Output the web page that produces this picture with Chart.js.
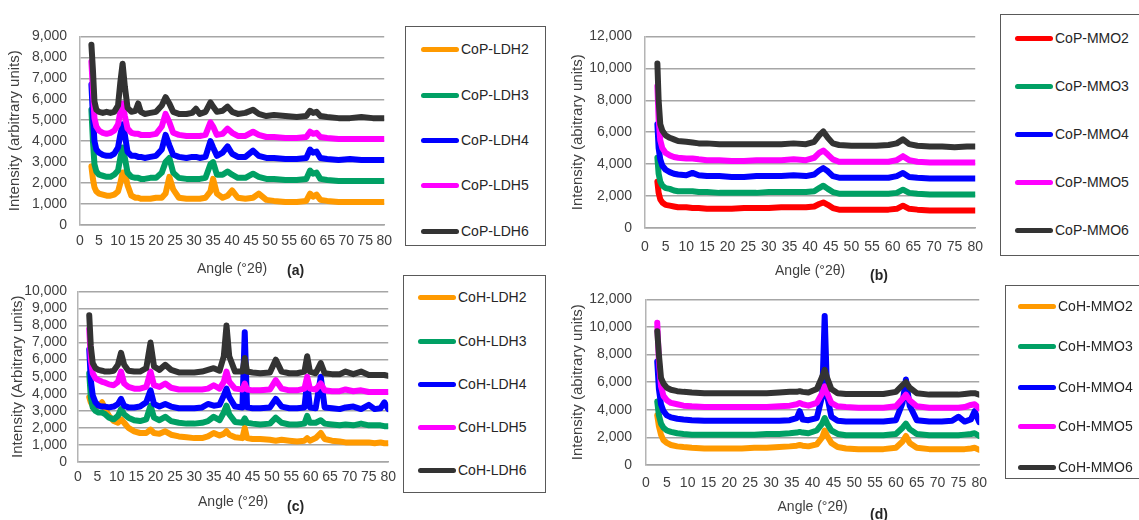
<!DOCTYPE html>
<html>
<head>
<meta charset="utf-8">
<script src="https://cdn.jsdelivr.net/npm/chart.js@4.4.1/dist/chart.umd.min.js"></script>
<style>
  body { margin: 0; background: #fff; overflow: hidden; }
  #fig { position: relative; width: 1139px; height: 520px; overflow: hidden; background: #fff;
         font-family: "Liberation Sans", Arial, sans-serif; }
  #fig canvas { position: absolute; }
  .legend { position: absolute; border: 1.5px solid #595959; background: #fff; box-sizing: border-box; }
  .item { position: absolute; height: 18px; line-height: 18px; font-size: 14px; color: #262626; white-space: nowrap; }
  .item i { display: inline-block; width: 38px; height: 5px; border-radius: 3px; vertical-align: middle; margin: -2px 2px 0 0; }
  .tag { position: absolute; font-weight: bold; font-size: 14px; color: #262626; line-height: 16px; }
</style>
</head>
<body>
<div id="fig">
  <canvas id="chartA"></canvas>
  <canvas id="chartB"></canvas>
  <canvas id="chartC"></canvas>
  <canvas id="chartD"></canvas>
</div>
<script>
// ---- (a) CoP-LDH patterns ----
const angleA = [3, 3.4, 3.8, 4.3, 5, 6, 7, 8, 9, 10, 10.6, 11.2, 11.8, 12.5, 13.5, 14.6, 15.3, 16, 17, 18.5,
  20, 21.5, 22.5, 23.5, 24.5, 26, 28, 29.5, 30.5, 31.5, 33, 34.3, 35, 36, 37.5, 38.8, 40, 41.5, 43.5, 45.5,
  47, 49, 51, 54, 57, 59.5, 60.5, 61.3, 62.2, 63.2, 65, 68, 71, 74, 77, 80];
const copLdh2 = [2800, 2200, 1800, 1600, 1500, 1450, 1400, 1400, 1450, 1600, 2000, 2500, 2500, 1900, 1400, 1300, 1300, 1250, 1250, 1250,
  1300, 1300, 1500, 2300, 1700, 1300, 1250, 1250, 1250, 1250, 1300, 1600, 2200, 1500, 1300, 1400, 1650, 1300, 1250, 1300,
  1500, 1200, 1150, 1100, 1100, 1150, 1500, 1350, 1450, 1200, 1150, 1100, 1100, 1100, 1100, 1100];
const copLdh3 = [5500, 4000, 2900, 2550, 2400, 2350, 2300, 2300, 2400, 2600, 3200, 3700, 3200, 2500, 2300, 2250, 2250, 2200, 2200, 2250,
  2250, 2500, 3000, 3200, 2500, 2250, 2200, 2200, 2200, 2200, 2250, 2900, 3000, 2400, 2400, 2550, 2400, 2250, 2250, 2450,
  2300, 2200, 2200, 2150, 2150, 2200, 2600, 2450, 2500, 2200, 2150, 2100, 2100, 2100, 2100, 2100];
const copLdh4 = [6700, 5200, 4000, 3600, 3450, 3350, 3300, 3300, 3400, 3700, 4300, 4800, 4300, 3500, 3300, 3300, 3250, 3250, 3200, 3250,
  3300, 3600, 4300, 3800, 3350, 3250, 3200, 3250, 3250, 3200, 3250, 4000, 3700, 3300, 3450, 3750, 3400, 3250, 3250, 3550,
  3300, 3200, 3200, 3150, 3150, 3200, 3600, 3450, 3500, 3200, 3150, 3100, 3150, 3100, 3100, 3100];
const copLdh5 = [7800, 6400, 5100, 4700, 4500, 4400, 4350, 4400, 4500, 4800, 5400, 5800, 5200, 4600, 4400, 4350, 4350, 4300, 4300, 4300,
  4350, 4700, 5300, 4900, 4400, 4300, 4250, 4250, 4250, 4250, 4300, 4900, 4700, 4300, 4350, 4600, 4400, 4250, 4250, 4450,
  4300, 4200, 4200, 4150, 4150, 4200, 4450, 4350, 4400, 4200, 4150, 4100, 4100, 4100, 4100, 4100];
const copLdh6 = [8600, 7400, 5900, 5500, 5400, 5350, 5400, 5350, 5400, 5700, 6800, 7700, 6600, 5600, 5400, 5450, 5800, 5400, 5300, 5350,
  5400, 5700, 6100, 5800, 5400, 5300, 5300, 5350, 5550, 5300, 5400, 5850, 5650, 5400, 5450, 5650, 5400, 5300, 5350, 5500,
  5300, 5200, 5250, 5200, 5150, 5200, 5450, 5350, 5400, 5200, 5150, 5100, 5100, 5150, 5100, 5100];

// ---- (b) CoP-MMO patterns ----
const angleB = [3, 3.3, 3.7, 4.2, 5, 6, 7, 8, 10, 11.5, 13, 15, 18, 21, 24, 27, 30, 33, 36, 39,
  41, 42.2, 43.2, 44.3, 45.5, 47, 50, 53, 56, 59, 61, 62.5, 64, 66, 69, 72, 75, 78, 80];
const copMmo2 = [2900, 2200, 1800, 1600, 1450, 1400, 1350, 1300, 1300, 1250, 1250, 1200, 1200, 1200, 1250, 1250, 1250, 1300, 1300, 1300,
  1350, 1500, 1600, 1450, 1250, 1150, 1150, 1150, 1150, 1150, 1200, 1400, 1200, 1150, 1100, 1100, 1100, 1100, 1100];
const copMmo3 = [4400, 3400, 2900, 2650, 2500, 2450, 2350, 2300, 2300, 2300, 2250, 2250, 2200, 2200, 2200, 2200, 2250, 2250, 2250, 2250,
  2300, 2500, 2650, 2450, 2250, 2150, 2150, 2150, 2150, 2150, 2200, 2400, 2200, 2150, 2100, 2100, 2100, 2100, 2100];
const copMmo4 = [6500, 5000, 4300, 3900, 3650, 3500, 3400, 3350, 3300, 3450, 3300, 3250, 3250, 3200, 3200, 3250, 3250, 3250, 3300, 3250,
  3350, 3600, 3750, 3550, 3250, 3150, 3150, 3150, 3150, 3150, 3250, 3450, 3200, 3150, 3100, 3100, 3100, 3100, 3100];
const copMmo5 = [8900, 6800, 5500, 5000, 4700, 4550, 4450, 4400, 4350, 4350, 4300, 4250, 4250, 4200, 4200, 4250, 4250, 4250, 4300, 4250,
  4400, 4700, 4850, 4600, 4300, 4150, 4150, 4150, 4150, 4150, 4250, 4500, 4250, 4150, 4100, 4100, 4100, 4100, 4100];
const copMmo6 = [10300, 8000, 6500, 6100, 5800, 5650, 5550, 5450, 5400, 5350, 5300, 5300, 5250, 5250, 5250, 5250, 5250, 5250, 5300, 5250,
  5400, 5800, 6050, 5650, 5300, 5200, 5150, 5150, 5150, 5200, 5300, 5550, 5250, 5150, 5100, 5100, 5050, 5100, 5100];

// ---- (c) CoH-LDH patterns ----
const angleC = [2.9, 3.3, 3.8, 4.5, 5.3, 6.2, 7, 8, 9.2, 10.3, 11.1, 11.9, 13, 14.5, 16, 17.6, 18.7, 19.6, 21, 22.5,
  24, 26, 28, 30, 32, 33.5, 35, 36.5, 37.6, 38.3, 39, 40.5, 42.4, 43, 43.6, 45, 47, 49.5, 51, 52.5,
  54.5, 56.5, 58.4, 59.1, 59.8, 61.3, 62.6, 63.6, 65.5, 67.5, 69, 71, 73, 75, 76.5, 78, 79, 80];
const cohLdh2 = [3800, 3500, 3300, 3200, 3300, 3500, 3100, 2700, 2400, 2300, 2500, 2300, 2000, 1800, 1700, 1700, 1900, 1700, 1650, 1800,
  1600, 1500, 1450, 1400, 1400, 1500, 1700, 1550, 1650, 1800, 1600, 1450, 1400, 2000, 1400, 1350, 1350, 1300, 1250, 1300,
  1250, 1200, 1250, 1400, 1250, 1400, 1700, 1350, 1250, 1200, 1150, 1150, 1150, 1150, 1100, 1150, 1100, 1100];
const cohLdh3 = [5200, 3800, 3200, 3000, 2900, 2900, 2800, 2600, 2500, 2700, 3100, 2800, 2600, 2450, 2400, 2500, 3300, 2600, 2450, 2650,
  2400, 2300, 2250, 2250, 2300, 2400, 2650, 2450, 2900, 3300, 2800, 2350, 2300, 2550, 2300, 2250, 2200, 2250, 2600, 2300,
  2200, 2200, 2250, 2700, 2300, 2300, 2450, 2250, 2200, 2150, 2200, 2150, 2250, 2150, 2150, 2150, 2100, 2100];
const cohLdh4 = [6600, 4800, 3900, 3500, 3300, 3250, 3250, 3200, 3250, 3400, 3700, 3300, 3200, 3200, 3250, 3500, 4200, 3400, 3250, 3400,
  3250, 3150, 3150, 3150, 3200, 3400, 3300, 3350, 3900, 4300, 3800, 3250, 3200, 7600, 3200, 3150, 3150, 3200, 3700, 3250,
  3150, 3150, 3200, 4700, 3200, 3150, 5000, 3200, 3150, 3100, 3200, 3250, 3100, 3350, 3100, 3150, 3500, 3100];
const cohLdh5 = [7800, 6000, 5200, 4900, 4800, 4700, 4650, 4550, 4500, 4700, 5300, 4600, 4400, 4300, 4300, 4400, 5300, 4500, 4400, 4600,
  4350, 4250, 4250, 4250, 4250, 4300, 4500, 4300, 4700, 5300, 4700, 4300, 4250, 4600, 4250, 4200, 4200, 4250, 4800, 4300,
  4200, 4200, 4300, 5000, 4300, 4250, 4600, 4200, 4150, 4150, 4250, 4150, 4200, 4100, 4100, 4100, 4100, 4100];
const cohLdh6 = [8600, 6800, 5800, 5500, 5400, 5350, 5300, 5300, 5350, 5700, 6400, 5700, 5350, 5300, 5300, 5500, 7000, 5600, 5400, 5700,
  5400, 5250, 5250, 5250, 5300, 5400, 5500, 5350, 6200, 8000, 6200, 5300, 5300, 6100, 5300, 5250, 5200, 5250, 6000, 5300,
  5200, 5200, 5300, 6200, 5300, 5200, 5800, 5200, 5150, 5150, 5300, 5150, 5300, 5100, 5100, 5100, 5100, 5050];

// ---- (d) CoH-MMO patterns ----
const angleD = [2.7, 3.1, 3.6, 4.2, 5, 6, 7.5, 9, 11, 14, 17, 20, 23, 26, 29, 32, 34.5, 36.2, 36.9, 37.6,
  39, 41, 42.3, 42.9, 43.5, 44.5, 46, 48, 51, 54, 57, 60, 61.6, 62.4, 63.3, 65, 68, 71, 73.5, 75,
  76.5, 78, 78.9, 80];
const cohMmo2 = [3600, 2800, 2200, 1800, 1600, 1450, 1350, 1300, 1250, 1200, 1200, 1200, 1200, 1250, 1250, 1300, 1350, 1400, 1450, 1400,
  1350, 1500, 2000, 2500, 2100, 1600, 1300, 1200, 1150, 1150, 1150, 1250, 1700, 2100, 1600, 1250, 1150, 1150, 1150, 1150,
  1150, 1200, 1250, 1100];
const cohMmo3 = [4600, 3600, 3000, 2700, 2500, 2400, 2300, 2250, 2200, 2200, 2200, 2200, 2200, 2200, 2250, 2250, 2300, 2350, 2400, 2350,
  2300, 2500, 3000, 3400, 3000, 2500, 2250, 2150, 2150, 2150, 2150, 2250, 2700, 3000, 2600, 2250, 2150, 2150, 2150, 2150,
  2200, 2250, 2300, 2100];
const cohMmo4 = [7500, 5500, 4400, 3900, 3600, 3450, 3350, 3300, 3250, 3200, 3200, 3200, 3200, 3200, 3200, 3200, 3250, 3400, 3900, 3300,
  3250, 3400, 5000, 10800, 5000, 3500, 3200, 3150, 3150, 3150, 3150, 3250, 4500, 6200, 4300, 3250, 3150, 3150, 3200, 3500,
  3150, 3300, 3900, 3100];
const cohMmo5 = [10300, 7500, 5700, 5000, 4700, 4500, 4400, 4300, 4250, 4200, 4200, 4200, 4200, 4200, 4200, 4250, 4300, 4400, 4500, 4400,
  4300, 4500, 5200, 5700, 5200, 4500, 4250, 4200, 4150, 4150, 4150, 4250, 4800, 5100, 4700, 4250, 4150, 4150, 4150, 4150,
  4200, 4350, 4400, 4100];
const cohMmo6 = [9700, 8000, 6300, 5900, 5600, 5450, 5350, 5300, 5250, 5200, 5200, 5200, 5200, 5200, 5200, 5250, 5300, 5300, 5350, 5300,
  5250, 5500, 6400, 6900, 6300, 5500, 5200, 5150, 5150, 5150, 5150, 5300, 5800, 6000, 5600, 5200, 5100, 5100, 5100, 5100,
  5150, 5200, 5200, 5100];

const ldhNamesP = ['CoP-LDH2', 'CoP-LDH3', 'CoP-LDH4', 'CoP-LDH5', 'CoP-LDH6'];
const mmoNamesP = ['CoP-MMO2', 'CoP-MMO3', 'CoP-MMO4', 'CoP-MMO5', 'CoP-MMO6'];
const ldhNamesH = ['CoH-LDH2', 'CoH-LDH3', 'CoH-LDH4', 'CoH-LDH5', 'CoH-LDH6'];
const mmoNamesH = ['CoH-MMO2', 'CoH-MMO3', 'CoH-MMO4', 'CoH-MMO5', 'CoH-MMO6'];

const ORANGE = '#ff9a00', GREEN = '#00a064', BLUE = '#0000ff', MAGENTA = '#ff00ff', BLACK = '#333333', RED = '#ff0000';
const FONT = '"Liberation Sans", Arial, sans-serif';
const TEXT = '#404040';

const panels = [
  {
    id: 'chartA', tag: '(a)', angles: angleA, series: [copLdh2, copLdh3, copLdh4, copLdh5, copLdh6], names: ldhNamesP,
    colors: [ORANGE, GREEN, BLUE, MAGENTA, BLACK], yMax: 9000, step: 1000, yTitle: 'Intensity (arbitrary units)',
    box: { left: 0, top: 15, width: 400, height: 270 }, yWidth: 80, xHeight: 60,
    pad: { yTitle: 6, yTicks: 13, xTicks: 8, xTitle: 7 },
    tagPos: { left: 287, top: 262 },
    legend: { left: 405, top: 26, width: 141, height: 220, line: 15, rows: [49, 95, 140, 185, 231] }
  },
  {
    id: 'chartB', tag: '(b)', angles: angleB, series: [copMmo2, copMmo3, copMmo4, copMmo5, copMmo6], names: mmoNamesP,
    colors: [RED, GREEN, BLUE, MAGENTA, BLACK], yMax: 12000, step: 2000, yTitle: 'Intensity (abitrary units)',
    box: { left: 560, top: 15, width: 434, height: 275 }, yWidth: 85, xHeight: 62,
    pad: { yTitle: 9, yTicks: 13, xTicks: 11, xTitle: 10 },
    tagPos: { left: 870, top: 267 },
    legend: { left: 1000, top: 14, width: 220, height: 242, line: 14, rows: [38, 86, 134, 182, 230] }
  },
  {
    id: 'chartC', tag: '(c)', angles: angleC, series: [cohLdh2, cohLdh3, cohLdh4, cohLdh5, cohLdh6], names: ldhNamesH,
    colors: [ORANGE, GREEN, BLUE, MAGENTA, BLACK], yMax: 10000, step: 1000, yTitle: 'Intensity (Arbitrary units)',
    box: { left: 0, top: 272, width: 403, height: 248 }, yWidth: 78, xHeight: 58,
    pad: { yTitle: 9, yTicks: 11, xTicks: 7, xTitle: 9 },
    tagPos: { left: 287, top: 498 },
    legend: { left: 403, top: 275, width: 143, height: 218, line: 14, rows: [297, 341, 384, 427, 470] }
  },
  {
    id: 'chartD', tag: '(d)', angles: angleD, series: [cohMmo2, cohMmo3, cohMmo4, cohMmo5, cohMmo6], names: mmoNamesH,
    colors: [ORANGE, GREEN, BLUE, MAGENTA, BLACK], yMax: 12000, step: 2000, yTitle: 'Intensity (abitrary units)',
    box: { left: 560, top: 277, width: 437, height: 243 }, yWidth: 86, xHeight: 55,
    pad: { yTitle: 9, yTicks: 14, xTicks: 10, xTitle: 4 },
    tagPos: { left: 870, top: 506 },
    legend: { left: 1005, top: 285, width: 220, height: 194, line: 12, rows: [306, 346, 387, 426, 467] }
  }
];

function drawPanel(p) {
  const canvas = document.getElementById(p.id);
  canvas.width = p.box.width;
  canvas.height = p.box.height;
  canvas.style.left = p.box.left + 'px';
  canvas.style.top = p.box.top + 'px';

  const n = p.series.length;
  return new Chart(canvas, {
    type: 'line',
    data: {
      labels: p.angles,
      datasets: p.series.map((values, i) => ({
        label: p.names[i],
        data: values,
        borderColor: p.colors[i],
        borderWidth: 6,
        borderJoinStyle: 'round',
        borderCapStyle: 'round',
        pointRadius: 0,
        tension: 0,
        order: n - i // later samples sit on top
      }))
    },
    options: {
      responsive: false,
      animation: false,
      devicePixelRatio: 1,
      layout: { padding: { top: 15, right: 10, left: 0, bottom: 0 } },
      plugins: { legend: { display: false }, tooltip: { enabled: false } },
      scales: {
        x: {
          type: 'linear', min: 0, max: 80,
          ticks: { stepSize: 5, autoSkip: false, maxRotation: 0, color: TEXT, padding: p.pad.xTicks,
                   font: { family: FONT, size: 14 } },
          grid: { display: false, drawTicks: false },
          border: { display: true, color: '#a6a6a6', width: 1.5 },
          title: { display: true, text: 'Angle (°2θ)', color: TEXT, font: { family: FONT, size: 14 },
                   padding: { top: 0, bottom: p.pad.xTitle } },
          afterFit: s => { s.height = p.xHeight; }
        },
        y: {
          min: 0, max: p.yMax,
          ticks: { stepSize: p.step, autoSkip: false, color: TEXT, padding: p.pad.yTicks,
                   font: { family: FONT, size: 14 }, callback: v => v.toLocaleString('en-US') },
          grid: { color: '#a6a6a6', lineWidth: 1.5, drawTicks: false },
          border: { display: true, color: '#b4b4b4', width: 1.5 },
          title: { display: true, text: p.yTitle, color: TEXT, font: { family: FONT, size: 15 },
                   padding: { top: p.pad.yTitle, bottom: 0 } },
          afterFit: s => { s.width = p.yWidth; }
        }
      }
    }
  });
}

function drawLegend(p) {
  const fig = document.getElementById('fig');
  const box = document.createElement('div');
  box.className = 'legend';
  Object.assign(box.style, {
    left: p.legend.left + 'px', top: p.legend.top + 'px',
    width: p.legend.width + 'px', height: p.legend.height + 'px'
  });
  p.names.forEach((name, i) => {
    const row = document.createElement('div');
    row.className = 'item';
    row.style.left = p.legend.line + 'px';
    row.style.top = (p.legend.rows[i] - p.legend.top - 10) + 'px';
    const swatch = document.createElement('i');
    swatch.style.background = p.colors[i];
    row.appendChild(swatch);
    row.appendChild(document.createTextNode(name));
    box.appendChild(row);
  });
  fig.appendChild(box);

  const tag = document.createElement('div');
  tag.className = 'tag';
  tag.textContent = p.tag;
  tag.style.left = p.tagPos.left + 'px';
  tag.style.top = p.tagPos.top + 'px';
  fig.appendChild(tag);
}

panels.forEach(p => {
  drawPanel(p);
  drawLegend(p);
});
</script>
</body>
</html>
